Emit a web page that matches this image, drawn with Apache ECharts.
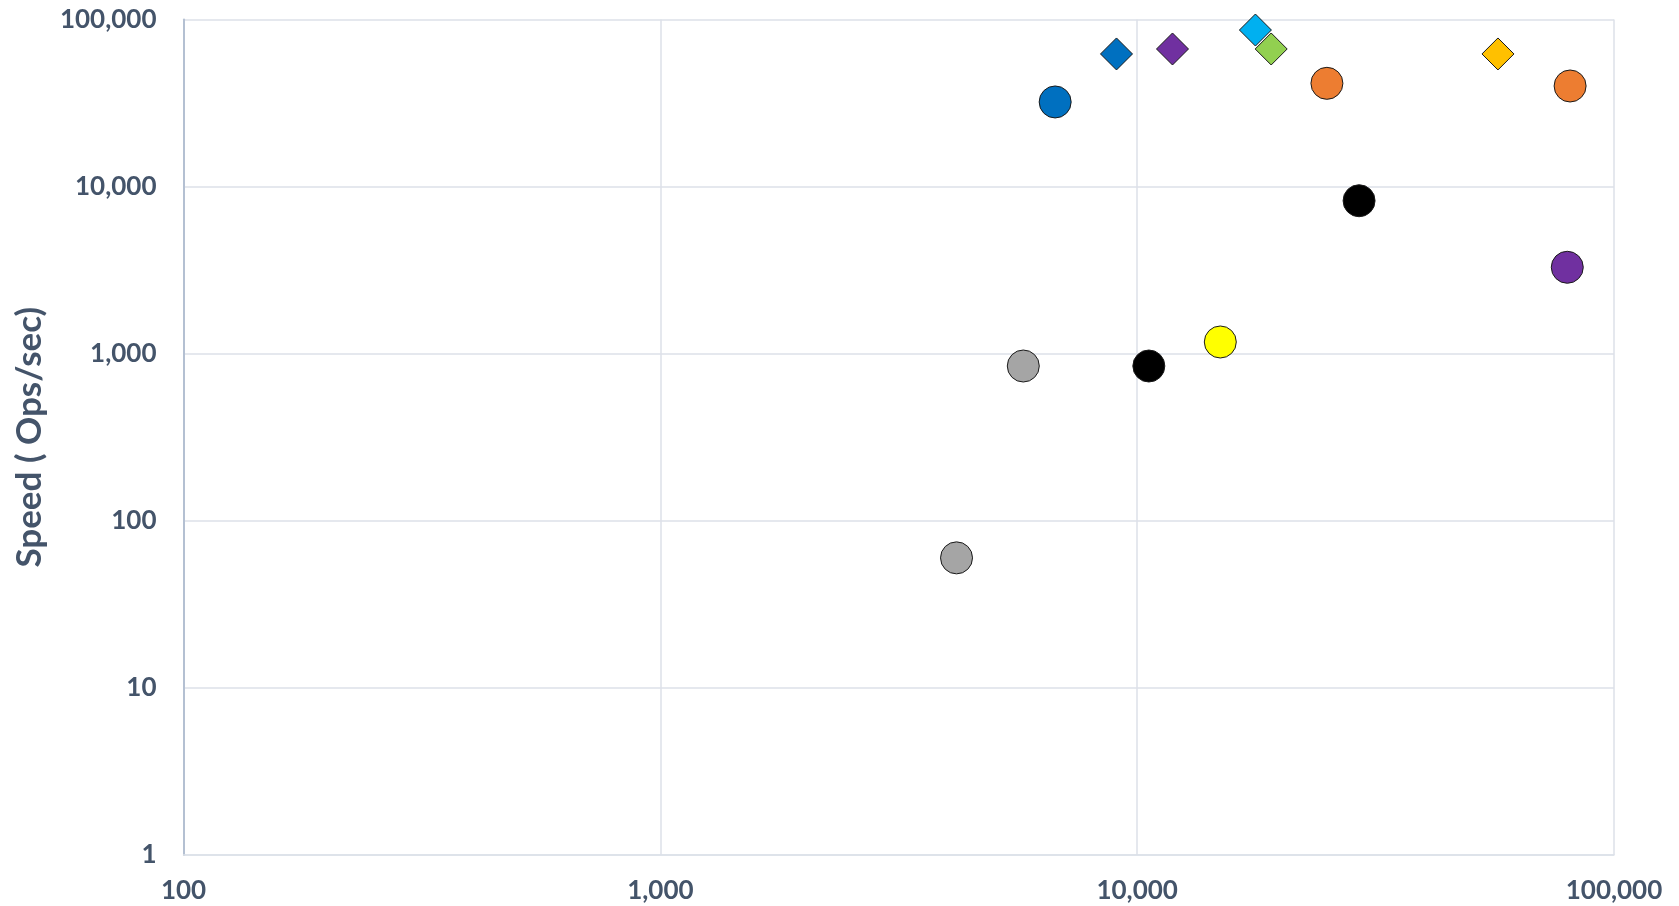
<!DOCTYPE html>
<html>
<head>
<meta charset="utf-8">
<style>
html,body{margin:0;padding:0;background:#fff;}
#chart{width:1679px;height:906px;}
</style>
<script src="https://cdn.jsdelivr.net/npm/echarts@6/dist/echarts.min.js"></script>
</head>
<body>
<div id="chart"></div>
<script>
// Data (log-log scatter)
const pointX = [6730, 9050, 11860, 17700, 19100, 25000, 57100, 80900, 29200, 79800, 5770, 10580, 14940, 4180];
const pointY = [32100, 62200, 66600, 86500, 66600, 41500, 62200, 40000, 8230, 3290, 844, 844, 1175, 60];
const xTicks = [100, 1000, 10000, 100000];
const yTicks = [1, 10, 100, 1000, 10000, 100000];
const yAxisTitle = 'Speed ( Ops/sec)';

// Styles (separate from data)
const pointColors = ['#0070C0', '#0070C0', '#7030A0', '#00B0F0', '#92D050', '#ED7D31', '#FFC000', '#ED7D31', '#000000', '#7030A0', '#A5A5A5', '#000000', '#FFFF00', '#A5A5A5'];
const pointShapes = ['circle', 'diamond', 'diamond', 'diamond', 'diamond', 'circle', 'diamond', 'circle', 'circle', 'circle', 'circle', 'circle', 'circle', 'circle'];

const fmt = v => Math.round(v).toString().replace(/\B(?=(\d{3})+(?!\d))/g, ',');
const labelColor = '#44546A';
const fontFam = 'Lato, "Open Sans", sans-serif';

const series = pointX.map((x, i) => ({
  type: 'scatter',
  data: [[x, pointY[i]]],
  symbol: pointShapes[i],
  symbolSize: 32,
  itemStyle: { color: pointColors[i], borderColor: '#1a1a1a', borderWidth: 1, opacity: 1 },
  z: 2 + i
}));

const chart = echarts.init(document.getElementById('chart'), null, { renderer: 'canvas' });
chart.setOption({
  animation: false,
  backgroundColor: '#ffffff',
  grid: { left: 183.5, right: 65, top: 19.5, bottom: 51, containLabel: false },
  xAxis: {
    type: 'log', logBase: 10,
    min: xTicks[0], max: xTicks[xTicks.length - 1],
    axisLine: { show: true, lineStyle: { color: '#DCE1E9', width: 1.5 } },
    axisTick: { show: false },
    splitLine: { show: true, lineStyle: { color: '#DCE1E9', width: 1.5 } },
    minorTick: { show: false },
    axisLabel: { margin: 23, color: labelColor, fontFamily: fontFam, fontWeight: 'bold', fontSize: 26, formatter: fmt, showMinLabel: true, showMaxLabel: true }
  },
  yAxis: {
    type: 'log', logBase: 10,
    min: yTicks[0], max: yTicks[yTicks.length - 1],
    name: yAxisTitle,
    nameLocation: 'middle',
    nameGap: 136,
    nameTextStyle: { color: labelColor, fontFamily: fontFam, fontWeight: 'bold', fontSize: 35 },
    axisLine: { show: true, lineStyle: { color: '#B4C0D2', width: 2 } },
    axisTick: { show: false },
    splitLine: { show: true, lineStyle: { color: '#DCE1E9', width: 1.5 } },
    axisLabel: { margin: 27, color: labelColor, fontFamily: fontFam, fontWeight: 'bold', fontSize: 26, formatter: fmt, showMinLabel: true, showMaxLabel: true }
  },
  series: series
});
</script>
</body>
</html>
